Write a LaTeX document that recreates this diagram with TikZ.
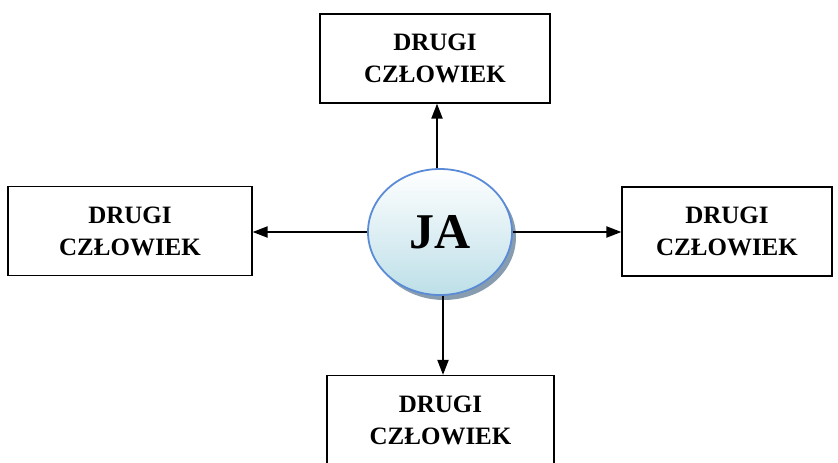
\documentclass[tikz,border=0pt]{standalone}
\usepackage{fontspec}
\setmainfont{Liberation Serif}
\usepackage{tikz}
\usetikzlibrary{positioning,shapes,arrows.meta,shadows}

\definecolor{jaedge}{HTML}{5B8BD6}
\definecolor{jafill}{HTML}{BDDFE8}
\definecolor{jashadow}{HTML}{7A92A6}

\begin{document}
\begin{tikzpicture}[x=1pt, y=-1pt,
    ->,
    >={Triangle[length=15pt,width=11pt]},
    line width=2pt,
    bb/.style={%
      rectangle, draw=black, line width=1.2pt, fill=white,
      minimum height=89pt, inner sep=4pt, align=center,
      font=\bfseries\fontsize{25}{32}\selectfont
    },
    ell/.style={%
      ellipse, draw=jaedge, line width=1.8pt,
      top color=white, bottom color=jafill,
      minimum width=144pt, minimum height=126pt, inner sep=0pt,
      drop shadow={shadow xshift=4pt, shadow yshift=-5pt, fill=jashadow, opacity=.9},
      font=\bfseries\fontsize{50}{54}\selectfont
    }
]
    \useasboundingbox (0,0) rectangle (838,463);

    \node[ell] (ja) at (440,232) {JA};
    \node[bb, minimum width=230pt] (1) at (435,58.5)  {DRUGI\\CZŁOWIEK};
    \node[bb, minimum width=244pt] (2) at (130,231)   {DRUGI\\CZŁOWIEK};
    \node[bb, minimum width=210pt] (3) at (727,231.5) {DRUGI\\CZŁOWIEK};
    \node[bb, minimum width=227pt] (4) at (440.5,420) {DRUGI\\CZŁOWIEK};

    \draw ([xshift=-3pt]ja.north) -- ([xshift=-3pt]ja.north |- 1.south);
    \draw (ja.west) -- (ja.west -| 2.east);
    \draw (ja.east) -- (ja.east -| 3.west);
    \draw ([xshift=3pt]ja.south) -- ([xshift=3pt]ja.south |- 4.north);

\end{tikzpicture}
\end{document}
